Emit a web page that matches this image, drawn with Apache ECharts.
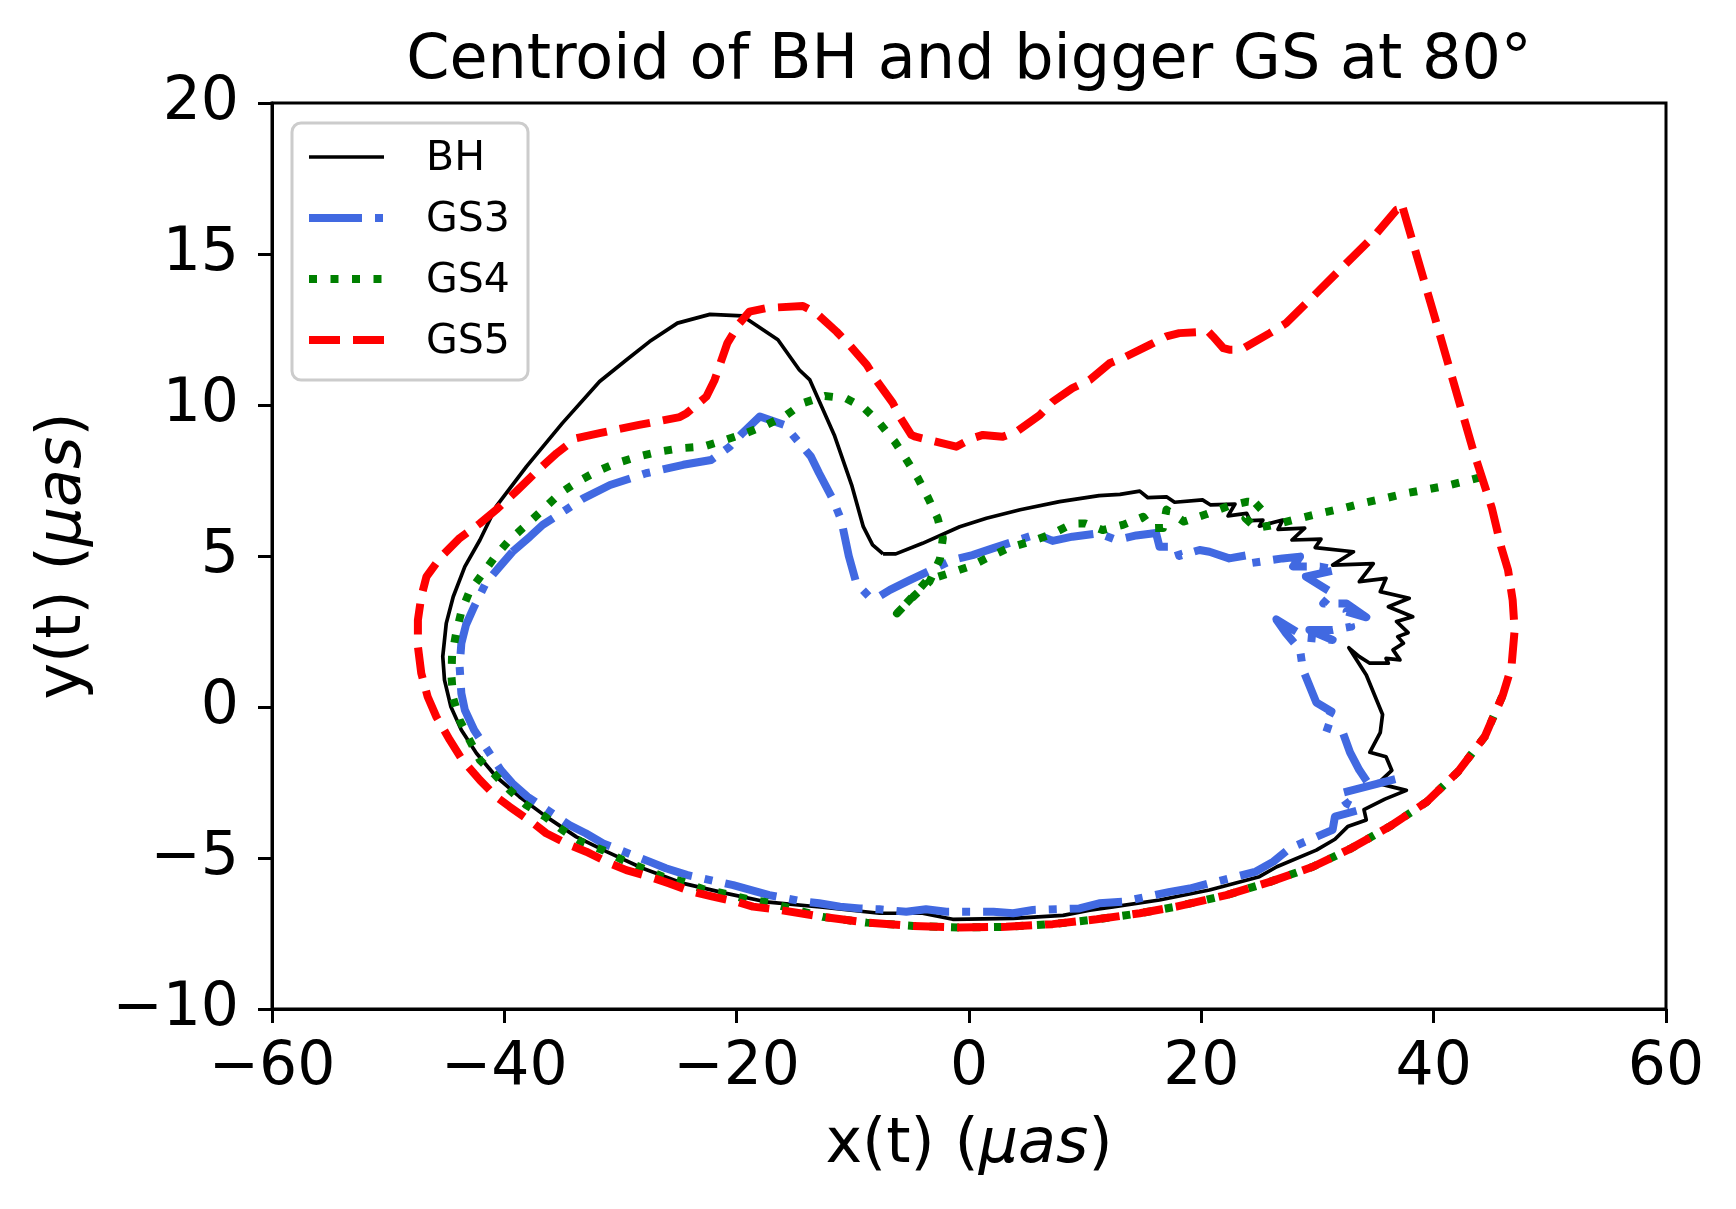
<!DOCTYPE html>
<html><head><meta charset="utf-8">
<script src="https://cdn.jsdelivr.net/npm/echarts@6/dist/echarts.min.js"></script>
<style>html,body{margin:0;padding:0;background:#fff}#c{width:1736px;height:1209px}</style>
</head><body><div id="c"></div>
<script>
const titleText = 'Centroid of BH and bigger GS at 80°';
const seriesNames = ['BH', 'GS3', 'GS4', 'GS5'];
const xTickValues = [-60, -40, -20, 0, 20, 40, 60];
const yTickValues = [-10, -5, 0, 5, 10, 15, 20];

const bh = [[-7.4,5.07],[-6.3,5.07],[-4.0,5.42],[-0.8,5.97],[1.5,6.25],[4.4,6.53],[7.8,6.8],[11.2,7.0],[13.0,7.04],[14.7,7.15],[15.4,6.93],[17.0,6.96],[17.7,6.78],[20.1,6.86],[20.8,6.69],[22.9,6.72],[22.3,6.33],[23.9,6.41],[24.2,6.17],[25.3,6.19],[25.0,5.99],[27.0,6.19],[26.6,5.88],[28.9,5.92],[27.8,5.53],[30.3,5.56],[29.8,5.28],[33.1,5.14],[31.3,4.70],[34.8,4.75],[33.6,4.15],[35.9,4.26],[35.4,3.82],[37.9,3.6],[36.1,3.32],[38.2,2.99],[36.8,2.83],[37.8,2.46],[36.9,2.33],[37.4,2.11],[36.5,1.89],[37.1,1.56],[35.9,1.61],[36.1,1.45],[34.5,1.45],[33.6,1.67],[32.7,1.96],[34.2,1.06],[35.6,-0.25],[35.4,-0.85],[34.5,-1.5],[35.9,-1.65],[36.4,-2.1],[35.2,-2.53],[37.65,-2.76],[35.8,-3.05],[34.0,-3.4],[34.2,-3.74],[32.6,-3.96],[31.5,-4.38],[29.9,-4.74],[26.5,-5.29],[25.0,-5.62],[20.7,-6.06],[16.4,-6.39],[12.4,-6.62],[10.4,-6.73],[8.1,-6.9],[3.8,-7.0],[-1.4,-7.03],[-4.0,-6.83],[-7.7,-6.83],[-12.6,-6.63],[-17.5,-6.45],[-20.9,-6.17],[-24.6,-5.84],[-28.1,-5.34],[-31.2,-4.79],[-33.8,-4.3],[-36.4,-3.63],[-38.7,-2.97],[-40.7,-2.31],[-42.4,-1.53],[-43.7,-0.76],[-44.6,0.01],[-45.15,0.89],[-45.3,1.67],[-45.0,2.77],[-44.4,3.65],[-43.4,4.65],[-42.1,5.53],[-40.7,6.64],[-38.1,7.96],[-35.0,9.4],[-31.8,10.78],[-29.5,11.49],[-27.5,12.1],[-25.1,12.71],[-22.3,13.0],[-19.5,12.95],[-16.45,12.16],[-14.6,11.16],[-13.7,10.83],[-11.6,9.01],[-10.1,7.35],[-9.1,5.97],[-8.3,5.37],[-7.4,5.07]];

const gs3 = [[-39.3,5.14],[-37.8,5.64],[-36.7,6.03],[-34.7,6.53],[-33.2,6.91],[-30.9,7.35],[-27.8,7.74],[-24.6,8.02],[-22.2,8.18],[-20.6,8.62],[-19.5,9.07],[-18.0,9.62],[-15.9,9.34],[-14.7,8.79],[-13.6,8.29],[-12.9,7.74],[-11.7,6.86],[-11.0,6.19],[-10.35,5.0],[-9.7,4.1],[-8.6,3.65],[-7.9,3.62],[-6.8,3.88],[-5.1,4.2],[-1.4,4.87],[0.3,5.03],[2.1,5.26],[4.0,5.5],[5.8,5.72],[7.2,5.5],[8.9,5.64],[11.2,5.75],[12.7,5.53],[14.4,5.68],[16.1,5.76],[16.4,5.31],[17.85,5.31],[18.1,5.0],[19.85,5.2],[20.7,5.14],[22.4,4.92],[24.0,5.03],[24.2,4.76],[27.0,4.92],[28.5,4.98],[27.9,4.65],[30.2,4.65],[31.6,4.54],[29.0,4.32],[31.3,3.77],[30.5,3.43],[32.5,3.43],[34.2,2.97],[32.5,3.16],[32.9,2.66],[31.3,2.55],[29.3,2.55],[31.3,2.22],[29.0,2.3],[26.45,2.9],[27.3,2.44],[28.5,1.89],[28.75,1.23],[29.9,0.15],[31.2,-0.15],[30.5,-0.65],[32.2,-0.87],[32.8,-1.5],[33.6,-2.09],[34.5,-2.6],[36.8,-2.38],[31.9,-2.86],[32.5,-3.19],[33.6,-3.41],[31.5,-3.63],[31.3,-4.07],[27.6,-4.68],[26.2,-5.12],[24.7,-5.45],[20.7,-5.84],[19.0,-6.01],[17.3,-6.12],[13.25,-6.45],[11.2,-6.5],[9.5,-6.67],[5.5,-6.72],[3.8,-6.83],[2.1,-6.78],[-1.95,-6.78],[-3.7,-6.7],[-5.4,-6.78],[-7.7,-6.7],[-9.4,-6.67],[-11.1,-6.61],[-12.9,-6.5],[-14.6,-6.42],[-17.2,-6.23],[-20.3,-5.9],[-24.3,-5.56],[-26.1,-5.34],[-27.5,-5.12],[-31.5,-4.52],[-33.0,-4.18],[-34.4,-3.91],[-38.0,-2.97],[-39.3,-2.53],[-40.3,-2.09],[-42.6,-0.76],[-43.4,-0.1],[-43.7,0.45],[-43.85,1.34],[-43.7,2.11],[-43.3,2.72],[-42.6,3.32],[-41.6,4.1],[-40.4,4.65],[-39.3,5.14]];

const gs4 = [[44.0,7.6],[43.2,7.52],[41.4,7.35],[39.5,7.21],[37.65,7.08],[35.8,6.91],[33.9,6.75],[32.2,6.58],[30.3,6.42],[28.5,6.25],[26.5,6.05],[24.7,5.92],[23.8,6.25],[25.2,6.75],[24.0,6.8],[22.3,6.65],[20.4,6.38],[18.5,6.14],[17.0,6.53],[16.7,5.93],[15.7,5.92],[15.0,6.3],[13.25,6.03],[11.5,5.86],[10.0,6.08],[8.9,6.07],[7.1,5.72],[5.3,5.48],[3.5,5.28],[1.8,4.98],[0.05,4.65],[-1.7,4.43],[-3.6,4.2],[-4.8,3.68],[-6.2,3.1],[-4.8,3.65],[-3.4,4.15],[-2.5,4.9],[-2.25,5.59],[-2.7,6.25],[-3.5,6.91],[-4.4,7.58],[-5.4,8.2],[-6.4,8.79],[-7.7,9.4],[-9.0,9.89],[-10.6,10.22],[-12.4,10.3],[-14.3,10.06],[-15.7,9.67],[-17.45,9.34],[-19.2,9.07],[-21.0,8.84],[-22.9,8.62],[-24.8,8.57],[-26.6,8.46],[-28.5,8.29],[-30.4,8.07],[-32.1,7.79],[-33.7,7.46],[-35.2,7.08],[-36.7,6.53],[-38.1,6.03],[-39.55,5.53],[-40.7,5.03],[-41.85,4.43],[-43.0,3.82],[-43.7,3.16],[-44.15,2.44],[-44.5,1.72],[-44.55,1.0],[-44.4,0.29],[-43.85,-0.43],[-43.0,-1.09],[-42.1,-1.76],[-40.8,-2.25],[-39.55,-2.75],[-38.1,-3.25],[-36.5,-3.63],[-35.0,-4.07],[-33.4,-4.46],[-31.5,-4.74],[-29.8,-5.07],[-28.1,-5.34],[-26.35,-5.62],[-24.6,-5.79],[-22.8,-6.04],[-20.9,-6.19],[-19.0,-6.37],[-17.2,-6.48],[-15.3,-6.67],[-12.6,-6.95],[-8.8,-7.14],[-4.8,-7.25],[-0.8,-7.3],[3.2,-7.28],[7.2,-7.19],[11.0,-7.03],[14.7,-6.83],[17.85,-6.61],[22.15,-6.23],[25.9,-5.79],[29.6,-5.29],[32.9,-4.68],[36.2,-3.96],[39.4,-3.14],[42.1,-2.14],[44.4,-0.98],[45.96,0.4]];

const gs5 = [[37.35,16.52],[40.1,12.9],[43.4,8.5],[45.0,6.6],[45.8,5.31],[46.4,4.54],[46.8,3.54],[46.97,2.55],[46.7,1.34],[45.96,0.4],[44.4,-0.98],[42.1,-2.14],[39.4,-3.14],[36.2,-3.96],[32.9,-4.68],[29.6,-5.29],[25.9,-5.79],[22.15,-6.23],[17.85,-6.61],[14.7,-6.83],[11.0,-7.03],[7.2,-7.19],[3.2,-7.28],[-0.8,-7.3],[-4.8,-7.25],[-8.8,-7.14],[-12.6,-6.95],[-16.3,-6.72],[-18.6,-6.61],[-20.0,-6.45],[-22.05,-6.28],[-23.8,-6.12],[-25.8,-5.84],[-27.5,-5.62],[-29.5,-5.4],[-30.9,-5.18],[-32.95,-4.79],[-34.4,-4.57],[-36.4,-4.18],[-37.5,-3.85],[-39.55,-3.3],[-40.7,-2.97],[-42.1,-2.42],[-43.6,-1.76],[-44.7,-1.09],[-45.86,-0.32],[-46.6,0.34],[-47.15,1.12],[-47.44,2.0],[-47.44,2.88],[-47.15,3.65],[-46.7,4.32],[-45.5,4.95],[-43.85,5.59],[-42.1,6.08],[-40.7,6.53],[-39.0,7.13],[-37.25,7.79],[-35.5,8.4],[-33.8,8.9],[-31.8,9.07],[-28.4,9.34],[-24.9,9.6],[-24.3,9.73],[-22.6,10.28],[-21.9,10.83],[-20.8,12.05],[-19.75,12.71],[-18.9,13.09],[-17.45,13.21],[-14.3,13.28],[-13.15,13.04],[-11.4,12.43],[-10.3,11.99],[-8.8,11.33],[-8.0,10.83],[-6.55,10.06],[-5.97,9.62],[-4.97,9.01],[-4.6,8.95],[-1.1,8.62],[0.3,8.9],[1.2,9.01],[2.9,8.95],[4.1,9.12],[6.1,9.67],[7.2,10.11],[8.9,10.56],[10.4,10.83],[12.1,11.38],[13.5,11.6],[15.55,11.99],[17.0,12.27],[18.1,12.38],[20.6,12.43],[21.0,12.27],[21.9,11.88],[22.4,11.83],[23.4,11.83],[25.9,12.38],[27.3,12.71],[29.9,13.7],[32.5,14.7],[35.1,15.69],[36.8,16.46],[37.35,16.52]];

const seriesData = [bh, gs3, gs4, gs5];
const seriesColors = ['#000000', '#4169E1', '#008000', '#FF0000'];
const seriesWidths = [3.7, 8, 8, 8];
const seriesDash = ['solid', [53, 13, 8, 13], [8, 13.5], [31, 13]];

const FONT = 'DejaVu Sans';
const minus = v => String(v).replace('-', '\u2212');

const chart = echarts.init(document.getElementById('c'), null, {renderer: 'canvas'});

const legendX = 292, legendY = 123, legendRowY = [157, 218, 279, 340];
const legendGraphics = [{
  type: 'rect', shape: {x: legendX, y: legendY, width: 236, height: 257, r: 9},
  style: {fill: 'rgba(255,255,255,0.8)', stroke: '#cccccc', lineWidth: 3}, z: 100
}];
seriesNames.forEach((n, i) => {
  legendGraphics.push({
    type: 'line', shape: {x1: 309, y1: legendRowY[i], x2: 384, y2: legendRowY[i]},
    style: {stroke: seriesColors[i], lineWidth: seriesWidths[i],
            lineDash: seriesDash[i] === 'solid' ? null : seriesDash[i], lineCap: 'butt'}, z: 101
  });
  legendGraphics.push({
    type: 'text', x: 426, y: legendRowY[i] + 2,
    style: {text: n, fontSize: 41, fontFamily: FONT, fill: '#000', textVerticalAlign: 'middle', verticalAlign: 'middle'}, z: 101
  });
});

chart.setOption({
  animation: false,
  backgroundColor: '#ffffff',
  title: {
    text: titleText, left: 969, top: 31, textAlign: 'center', padding: 0,
    textStyle: {fontFamily: FONT, fontSize: 62, fontWeight: 'normal', color: '#000'}
  },
  grid: {left: 272, top: 103, width: 1394, height: 906, show: true, borderColor: '#000', borderWidth: 3, backgroundColor: 'transparent'},
  xAxis: {
    type: 'value', min: -60, max: 60, interval: 20,
    name: 'x(t) ({it|μas})', nameLocation: 'middle', nameGap: 106,
    nameTextStyle: {fontFamily: FONT, fontSize: 62, color: '#000',
      rich: {it: {fontFamily: FONT, fontSize: 62, fontStyle: 'italic', color: '#000'}}},
    axisLine: {show: true, onZero: false, lineStyle: {color: '#000', width: 3}},
    axisTick: {show: true, inside: false, length: 14, lineStyle: {color: '#000', width: 3}},
    axisLabel: {fontFamily: FONT, fontSize: 60, color: '#000', margin: 29,
      formatter: v => xTickValues.includes(v) ? minus(v) : ''},
    splitLine: {show: false}
  },
  yAxis: {
    type: 'value', min: -10, max: 20, interval: 5,
    name: 'y(t) ({it|μas})', nameLocation: 'middle', nameGap: 177,
    nameTextStyle: {fontFamily: FONT, fontSize: 62, color: '#000',
      rich: {it: {fontFamily: FONT, fontSize: 62, fontStyle: 'italic', color: '#000'}}},
    axisLine: {show: true, onZero: false, lineStyle: {color: '#000', width: 3}},
    axisTick: {show: true, inside: false, length: 14, lineStyle: {color: '#000', width: 3}},
    axisLabel: {fontFamily: FONT, fontSize: 60, color: '#000', margin: 33,
      formatter: v => yTickValues.includes(v) ? minus(v) : ''},
    splitLine: {show: false}
  },
  series: seriesNames.map((n, i) => ({
    type: 'line', name: n, data: seriesData[i],
    showSymbol: false, symbol: 'none', silent: true, smooth: false,
    lineStyle: {color: seriesColors[i], width: seriesWidths[i], type: seriesDash[i], cap: 'butt', join: 'round'},
    z: 2 + i
  })),
  graphic: legendGraphics
});
</script></body></html>
